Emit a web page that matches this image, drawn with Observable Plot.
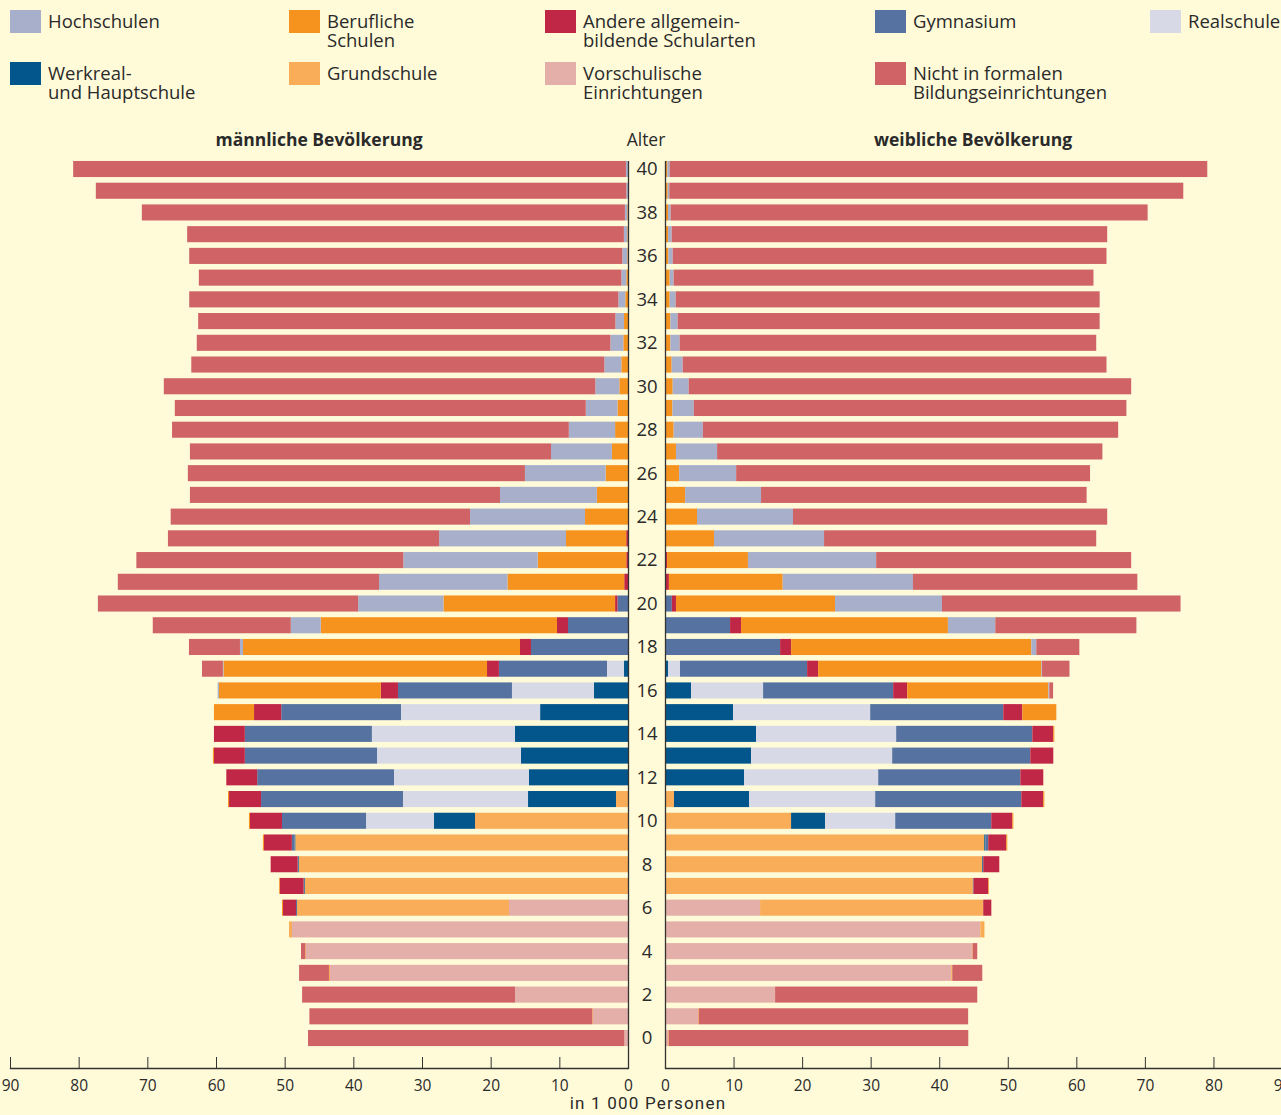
<!DOCTYPE html>
<html><head><meta charset="utf-8">
<script src="https://cdn.jsdelivr.net/npm/d3@7"></script>
<script src="https://cdn.jsdelivr.net/npm/@observablehq/plot@0.6"></script>
<style>
html,body{margin:0;padding:0;background:#fffbd9;overflow:hidden;width:1281px;height:1115px;}
body{position:relative;font-family:"Open Sans",sans-serif;color:#2a2a2a;}
.lg{position:absolute;}
.sw{position:absolute;left:0;top:0;width:31px;height:23px;}
.lt{position:absolute;left:38px;top:1px;font-size:18.5px;line-height:19px;white-space:nowrap;}
.hd{position:absolute;font-size:17.5px;line-height:20px;transform:translateX(-50%);white-space:nowrap;}
.unit{position:absolute;left:648px;top:1093px;transform:translateX(-50%);white-space:nowrap;font-family:Roboto,sans-serif;font-size:17px;line-height:20px;letter-spacing:1.2px;}
.chart{position:absolute;top:120px;}
.chart svg{max-width:none !important;}
</style></head><body>
<div id="legend"></div>
<div class="hd" style="left:319px;top:129px;font-weight:700">männliche Bevölkerung</div>
<div class="hd" style="left:646px;top:129px;">Alter</div>
<div class="hd" style="left:973px;top:129px;font-weight:700">weibliche Bevölkerung</div>
<div class="unit">in 1 000 Personen</div>
<div id="left" class="chart" style="left:0px;width:640px"></div>
<div id="right" class="chart" style="left:630px;width:670px"></div>
<script>
// ages 0..40
const ages = d3.range(0, 41);
const ageTicks = d3.range(0, 41, 2);
const xTicks = d3.range(0, 91, 10);

// categories in stacking order (from centre outward)
const cats = ["Vorschulische Einrichtungen", "Grundschule", "Werkreal- und Hauptschule", "Realschule", "Gymnasium",
  "Andere allgemeinbildende Schularten", "Berufliche Schulen", "Hochschulen", "Nicht in formalen Bildungseinrichtungen"];
const colors = ["#e4afa9", "#f9ad59", "#03568c", "#d8d9e7", "#5572a0", "#c02645", "#f6931e", "#a8afcb", "#cf6366"];

// legend layout (rows/cols) and labels
const legendOrder = [7, 6, 5, 4, 3, 2, 1, 0, 8];
const legendLabels = ["Hochschulen", "Berufliche<br>Schulen", "Andere allgemein-<br>bildende Schularten", "Gymnasium", "Realschule",
  "Werkreal-<br>und Hauptschule", "Grundschule", "Vorschulische<br>Einrichtungen", "Nicht in formalen<br>Bildungseinrichtungen"];

// male values (1 000 persons), index = age
const mV = [0.53,5.1,16.46,43.4,46.89,48.93,17.33,0,0,0, 0,0,0,0,0,0,0,0,0,0, 0,0,0,0,0,0,0,0,0,0, 0,0,0,0,0,0,0,0,0,0, 0];
const mG = [0,0.1,0,0.15,0.1,0.44,30.87,47.04,47.91,48.45, 22.28,1.75,0,0,0,0,0,0,0,0, 0,0,0,0,0,0,0,0,0,0, 0,0,0,0,0,0,0,0,0,0, 0];
const mW = [0,0,0,0,0,0,0,0.1,0.1,0.1, 5.97,12.81,14.42,15.6,16.46,12.8,4.95,0.58,0,0, 0,0,0,0,0,0,0,0,0,0, 0,0,0,0,0,0,0,0,0,0, 0];
const mR = [0,0,0,0,0,0,0,0,0,0, 9.9,18.21,19.66,20.95,20.84,20.26,11.95,2.48,0,0, 0,0,0,0,0,0,0,0,0,0, 0,0,0,0,0,0,0,0,0,0, 0];
const mGy = [0,0,0,0,0,0,0.15,0.1,0.1,0.4, 12.24,20.67,19.92,19.25,18.5,17.44,16.6,15.74,14.13,8.74, 1.53,0,0,0,0,0,0,0,0,0, 0,0,0,0,0,0,0,0,0,0, 0];
const mA = [0,0,0,0,0,0,1.89,3.49,3.93,4.07, 4.66,4.66,4.5,4.5,4.5,3.96,2.5,1.73,1.6,1.6, 0.35,0.55,0.25,0.26,0,0,0,0,0,0, 0,0,0,0,0,0,0,0,0,0, 0];
const mB = [0,0,0,0,0,0,0.15,0.1,0,0.15, 0.15,0.15,0,0.15,0,5.84,23.56,38.37,40.34,34.4, 24.99,17.0,12.9,8.77,6.26,4.53,3.26,2.34,1.88,1.53, 1.26,0.97,0.68,0.58,0.39,0.24,0.1,0.1,0.1,0, 0];
const mH = [0,0,0,0,0,0,0,0,0,0, 0,0,0,0,0,0,0.2,0.1,0.44,4.37, 12.43,18.71,19.58,18.48,16.75,14.11,11.75,8.87,6.74,4.62, 3.5,2.48,1.89,1.26,1.02,0.73,0.73,0.5,0.35,0.25, 0.3];
const mN = [46.07,41.2,31.0,4.35,0.63,0,0,0,0,0, 0,0,0,0,0,0,0,3.04,7.43,20.1, 37.9,38.04,38.87,39.49,43.59,45.16,49.09,52.59,57.78,59.85, 62.84,60.15,60.23,60.76,62.49,61.53,63.07,63.6,70.35,77.25, 80.5];

// female values (1 000 persons), index = age
const fV = [0.44,4.82,16.06,41.75,44.77,45.99,13.87,0,0,0, 0,0,0,0,0,0,0,0,0,0, 0,0,0,0,0,0,0,0,0,0, 0,0,0,0,0,0,0,0,0,0, 0];
const fG = [0.1,0.1,0,0.15,0.1,0.44,32.55,44.9,46.28,46.57, 18.39,1.31,0,0,0,0,0,0,0,0, 0,0,0,0,0,0,0,0,0,0, 0,0,0,0,0,0,0,0,0,0, 0];
const fW = [0,0,0,0,0,0,0,0,0.15,0.15, 4.97,10.95,11.53,12.55,13.28,9.93,3.8,0.44,0,0, 0,0,0,0,0,0,0,0,0,0, 0,0,0,0,0,0,0,0,0,0, 0];
const fR = [0,0,0,0,0,0,0,0,0,0, 10.22,18.4,19.57,20.59,20.44,20.0,10.51,1.75,0,0, 0,0,0,0,0,0,0,0,0,0, 0,0,0,0,0,0,0,0,0,0, 0];
const fGy = [0,0,0,0,0,0,0,0.1,0,0.43, 14.01,21.31,20.73,20.14,19.86,19.41,18.97,18.54,16.79,9.49, 1.0,0,0,0,0,0,0,0,0,0, 0,0,0,0,0,0,0,0,0,0, 0];
const fA = [0,0,0,0,0,0,1.18,2.15,2.33,2.63, 3.07,3.21,3.35,3.36,3.06,2.78,2.05,1.61,1.61,1.6, 0.6,0.57,0.3,0,0,0,0,0,0,0, 0,0,0,0,0,0,0,0,0,0, 0];
const fB = [0,0,0,0,0,0.15,0,0.1,0,0.15, 0.15,0.15,0,0,0.15,4.96,20.58,32.56,35.03,30.18, 23.2,16.6,11.8,7.15,4.67,2.93,2.06,1.6,1.26,1.08, 1.12,0.97,0.78,0.78,0.68,0.68,0.49,0.44,0.44,0.39, 0.34];
const fH = [0,0,0,0,0,0,0,0,0,0, 0,0,0,0,0,0,0.15,0.1,0.73,6.91, 15.6,19.0,18.7,16.05,14.0,11.08,8.32,6.0,4.27,3.12, 2.34,1.61,1.36,1.07,0.88,0.58,0.63,0.54,0.39,0.24, 0.34];
const fN = [43.7,39.3,29.49,4.38,0.68,0,0,0,0,0, 0,0,0,0,0,0,0.55,4.0,6.28,20.58, 34.8,32.73,37.2,39.7,45.83,47.49,51.62,56.2,60.57,63.1, 64.54,61.82,60.76,61.55,61.84,61.24,63.28,63.52,69.57,74.97, 78.42];

const maleSeries = [mV, mG, mW, mR, mGy, mA, mB, mH, mN];
const femaleSeries = [fV, fG, fW, fR, fGy, fA, fB, fH, fN];

function tidy(series) {
  const rows = [];
  series.forEach((arr, ci) => ages.forEach(a => { if (arr[a] > 0) rows.push({age: a, cat: cats[ci], value: arr[a]}); }));
  return rows;
}
const male = tidy(maleSeries);
const female = tidy(femaleSeries);

// legend
const legendPos = [[10,10],[289,10],[545,10],[875,10],[1150,10],[10,62],[289,62],[545,62],[875,62]];
const lg = document.getElementById("legend");
legendOrder.forEach((ci, i) => {
  const d = document.createElement("div");
  d.className = "lg";
  d.style.left = legendPos[i][0] + "px"; d.style.top = legendPos[i][1] + "px";
  d.innerHTML = `<div class="sw" style="background:${colors[ci]}"></div><div class="lt">${legendLabels[i]}</div>`;
  lg.appendChild(d);
});

const H = 995, MT = 41, MB = 47;
const yOpts = {domain: ages.slice().reverse(), range: [38.14, 928.9], paddingInner: 0.26, paddingOuter: 0.13, round: false, axis: null, label: null};
const colorOpts = {type: "ordinal", domain: cats, range: colors};
const style = {background: "transparent", fontFamily: "Open Sans, sans-serif", fontSize: "15.5px", color: "#2a2a2a", overflow: "visible", maxWidth: "none"};

function axisMarks() {
  return [
    Plot.ruleX([0], {stroke: "#333", strokeWidth: 1.3}),
    Plot.frame({anchor: "bottom", stroke: "#333", strokeWidth: 1.3}),
    Plot.axisX({ticks: xTicks, tickSize: 11, dy: -11, tickFormat: () => "", stroke: "#333", label: null}),
    Plot.axisX({ticks: xTicks, tickSize: 0, tickPadding: 11, label: null, fill: "#2a2a2a", fontSize: 15.5})
  ];
}

const left = Plot.plot({
  width: 640, height: H, marginLeft: 10, marginRight: 12, marginTop: MT, marginBottom: MB,
  style,
  x: {domain: [0, 90], reverse: true, label: null},
  y: yOpts,
  color: colorOpts,
  marks: [
    Plot.barX(male, Plot.stackX({y: "age", x: "value", fill: "cat", order: null})),
    ...axisMarks()
  ]
});
document.getElementById("left").appendChild(left);

const right = Plot.plot({
  width: 670, height: H, marginLeft: 35, marginRight: 18, marginTop: MT, marginBottom: MB,
  style,
  x: {domain: [0, 90], label: null},
  y: {...yOpts, axis: null},
  color: colorOpts,
  marks: [
    Plot.barX(female, Plot.stackX({y: "age", x: "value", fill: "cat", order: null})),
    ...axisMarks(),
    Plot.axisY({anchor: "left", ticks: ageTicks, tickSize: 0, tickPadding: 18.5, textAnchor: "middle", label: null, fill: "#2a2a2a", fontSize: 18.5})
  ]
});
document.getElementById("right").appendChild(right);
</script>
</body></html>
